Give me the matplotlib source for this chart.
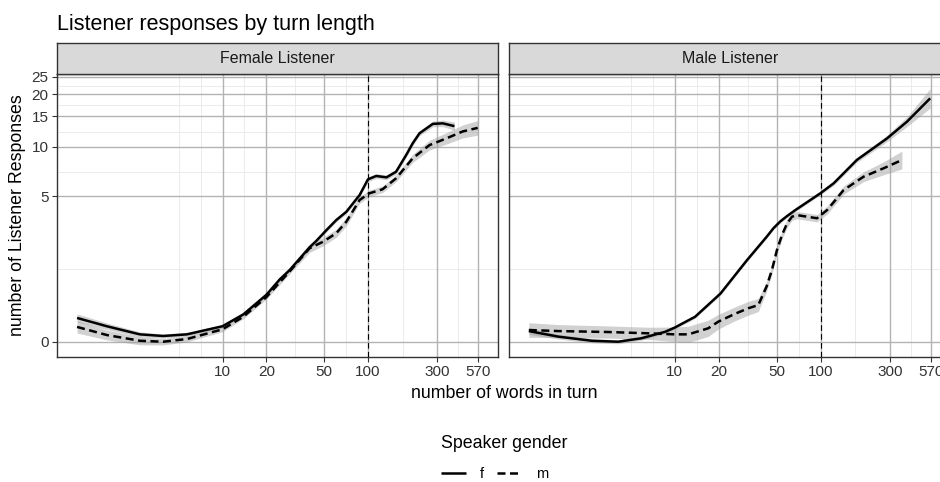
import numpy as np
import matplotlib
matplotlib.use("Agg")
import matplotlib.pyplot as plt
from matplotlib.lines import Line2D

plt.rcParams['font.family'] = ['Liberation Sans', 'DejaVu Sans']

# values (x = words in turn, y = listener responses)
# se = half width of the grey band, in log1p units
fem_f_x = [1, 1.6, 2.7, 3.9, 5.7, 10, 13.9, 20, 24.7, 29, 39.7, 44, 51.8, 60.5, 71,
           87.6, 100, 114, 134, 156, 183, 203, 226, 279, 327, 393]
fem_f_y = [0.34, 0.21, 0.095, 0.073, 0.095, 0.21, 0.40, 0.78, 1.15, 1.42, 2.2, 2.45,
           2.95, 3.47, 3.95, 5.08, 6.38, 6.69, 6.56, 7.1, 8.95, 10.5, 12.0, 13.6, 13.7, 13.2]
fem_f_se = [0.05, 0.04, 0.03, 0.025, 0.025, 0.02, 0.02, 0.02, 0.02, 0.02, 0.025, 0.025,
            0.025, 0.025, 0.025, 0.03, 0.03, 0.03, 0.03, 0.03, 0.03, 0.03, 0.03, 0.035, 0.04, 0.05]

fem_m_x = [1, 1.6, 2.7, 3.9, 5.7, 10, 13.9, 20, 29, 39.7, 49, 60.5, 71, 87.6, 102,
           126, 156, 203, 265, 345, 448, 568]
fem_m_y = [0.20, 0.086, 0.012, 0.0, 0.034, 0.165, 0.36, 0.73, 1.38, 2.16, 2.42, 2.80,
           3.38, 4.72, 5.21, 5.53, 6.47, 8.56, 10.25, 11.2, 12.3, 12.9]
fem_m_se = [0.075, 0.06, 0.05, 0.04, 0.035, 0.03, 0.025, 0.025, 0.03, 0.05, 0.05, 0.05,
            0.05, 0.04, 0.04, 0.04, 0.04, 0.05, 0.06, 0.07, 0.08, 0.09]

mal_f_x = [1, 1.6, 2.7, 4.1, 5.9, 8.6, 10, 13.8, 20.6, 31.3, 42.7, 47.6, 53, 59, 67,
           99.5, 123, 177, 285, 391, 564]
mal_f_y = [0.14, 0.064, 0.012, 0.0, 0.043, 0.13, 0.19, 0.36, 0.81, 1.73, 2.64,
           3.05, 3.4, 3.7, 4.05, 5.21, 6.03, 8.36, 11.2, 14.0, 19.0]
mal_f_se = [0.04, 0.03, 0.025, 0.025, 0.025, 0.02, 0.02, 0.02, 0.02, 0.02, 0.02,
            0.02, 0.02, 0.02, 0.02, 0.02, 0.025, 0.03, 0.04, 0.06, 0.12]

mal_m_x = [1, 1.6, 3.5, 6.6, 10, 12.4, 17, 19.9, 25.9, 32, 37.4, 42.6, 46.4, 50.2,
           54.4, 58.9, 63.7, 68.9, 80.7, 94.5, 111, 144, 197, 270, 361]
mal_m_y = [0.155, 0.14, 0.127, 0.109, 0.095, 0.095, 0.18, 0.28, 0.41, 0.51, 0.57, 0.97,
           1.42, 2.09, 2.72, 3.29, 3.66, 3.75, 3.66, 3.57, 4.06, 5.47, 6.62, 7.45, 8.36]
mal_m_se = [0.09, 0.08, 0.075, 0.075, 0.09, 0.1, 0.1, 0.09, 0.085, 0.085, 0.08, 0.06,
            0.05, 0.05, 0.05, 0.05, 0.045, 0.045, 0.045, 0.045, 0.05, 0.05, 0.06, 0.08, 0.11]

panels = ["Female Listener", "Male Listener"]
x_breaks = [10, 20, 50, 100, 300, 570]
y_breaks = [0, 5, 10, 15, 20, 25]

W, H = 940, 482


def rect(x0, y0, x1, y1):
    return [x0 / W, 1 - y1 / H, (x1 - x0) / W, (y1 - y0) / H]


fig = plt.figure(figsize=(9.4, 4.82), dpi=100)

dark = '#333333'
grid_major = '#b3b3b3'
grid_minor = '#ebebeb'
lw = 1.8

# minor grid positions the way ggplot places them (midpoints in transformed space)
lxb = np.log10(x_breaks)
lx_all = np.concatenate([[lxb[0] - (lxb[1] - lxb[0])], lxb])
x_minor = [lx_all[0]] + list((lx_all[:-1] + lx_all[1:]) / 2)
x_minor = 10 ** np.array(x_minor)
tyb = np.log1p(y_breaks)
y_minor = np.expm1((tyb[:-1] + tyb[1:]) / 2)

xlim = (10 ** -0.138, 10 ** 2.894)
ylim = (np.expm1(-0.188), np.expm1(3.295))

series = [
    [(fem_f_x, fem_f_y, fem_f_se), (fem_m_x, fem_m_y, fem_m_se)],
    [(mal_f_x, mal_f_y, mal_f_se), (mal_m_x, mal_m_y, mal_m_se)],
]

boxes = [(57, 498), (508.7, 951)]

for i, name in enumerate(panels):
    x0, x1 = boxes[i]
    ax = fig.add_axes(rect(x0, 74, x1, 357))
    ax.set_xscale('log')
    ax.set_yscale('function', functions=(np.log1p, np.expm1))
    ax.set_xlim(xlim)
    ax.set_ylim(ylim)

    for xm in x_minor:
        ax.axvline(xm, color=grid_minor, lw=0.7, zorder=0)
    for ym in y_minor:
        ax.axhline(ym, color=grid_minor, lw=0.7, zorder=0)
    for xb in x_breaks:
        ax.axvline(xb, color=grid_major, lw=1.0, zorder=0.5)
    for yb in y_breaks:
        ax.axhline(yb, color=grid_major, lw=1.0, zorder=0.5)

    for (sx, sy, se), style in zip(series[i], ['solid', 'dashed']):
        sx = np.array(sx)
        t = np.log1p(sy)
        se = np.array(se)
        ax.fill_between(sx, np.expm1(t - se), np.expm1(t + se),
                        color='#999999', alpha=0.45, lw=0, zorder=1)
        if style == 'solid':
            ax.plot(sx, sy, color='black', lw=lw, solid_capstyle='butt',
                    solid_joinstyle='round', zorder=3)
        else:
            ax.plot(sx, sy, color='black', lw=lw, dashes=(3.2, 1.8),
                    dash_capstyle='butt', dash_joinstyle='round', zorder=3)

    ax.axvline(100, color='black', lw=0.8, dashes=(5, 3), zorder=2)

    ax.set_xticks(x_breaks)
    ax.set_xticklabels([str(v) for v in x_breaks])
    ax.xaxis.set_minor_locator(matplotlib.ticker.NullLocator())
    ax.yaxis.set_minor_locator(matplotlib.ticker.NullLocator())
    ax.set_yticks(y_breaks)
    if i == 0:
        ax.set_yticklabels([str(v) for v in y_breaks])
    else:
        ax.tick_params(axis='y', left=False, labelleft=False)
    ax.tick_params(axis='both', length=3.5, width=0.8, color=dark,
                   labelsize=11, labelcolor='#333333', pad=2.5)
    for sp in ax.spines.values():
        sp.set_color(dark)
        sp.set_linewidth(1.0)
        sp.set_zorder(4)

    sax = fig.add_axes(rect(x0, 43, x1, 74))
    sax.set_facecolor('#d9d9d9')
    sax.set_xticks([])
    sax.set_yticks([])
    for sp in sax.spines.values():
        sp.set_color(dark)
        sp.set_linewidth(1.0)
    sax.text(0.5, 0.5, name, ha='center', va='center', fontsize=11.5,
             color='#1a1a1a', transform=sax.transAxes)

fig.text(57 / W, 1 - 30 / H, "Listener responses by turn length", fontsize=15.5,
         va='baseline', ha='left')
fig.text(18 / W, 1 - 215.5 / H, "number of Listener Responses", rotation=90,
         fontsize=12.8, ha='center', va='center')
fig.text(504 / W, 1 - 394 / H, "number of words in turn", fontsize=12.8,
         ha='center', va='center')

handles = [Line2D([], [], color='black', lw=lw, solid_capstyle='butt'),
           Line2D([], [], color='black', lw=lw, dashes=(3.2, 1.8), dash_capstyle='butt')]
leg = fig.legend(handles, ['f', 'm'], title='Speaker gender', ncol=2, loc='center',
                 bbox_to_anchor=(504 / W, 1 - 458 / H), frameon=False, fontsize=10.5,
                 title_fontsize=12.8, handlelength=1.7, handletextpad=0.95,
                 columnspacing=0.95, labelspacing=1.0, alignment='left')

fig.savefig('out.png', dpi=100)
